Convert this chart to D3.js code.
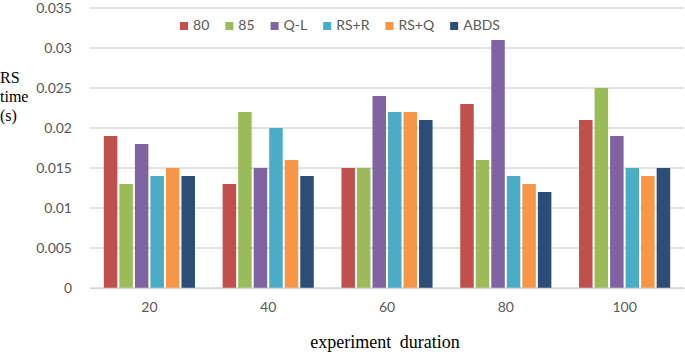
<!DOCTYPE html>
<html lang="en">

<head>
    <meta charset="UTF-8">
    <title>RS time by experiment duration</title>
    <script src="https://d3js.org/d3.v7.min.js"></script>
    <style>
        body {
            margin: 0;
            background: #fff;
        }

        svg {
            font-family: Lato, "Noto Sans", sans-serif;
        }
    </style>
</head>

<body>
    <script>
        // chart data
        const durations = ['20', '40', '60', '80', '100'];
        const seriesNames = ['80', '85', 'Q-L', 'RS+R', 'RS+Q', 'ABDS'];
        const v80 = [0.019, 0.013, 0.015, 0.023, 0.021];
        const v85 = [0.013, 0.022, 0.015, 0.016, 0.025];
        const vQL = [0.018, 0.015, 0.024, 0.031, 0.019];
        const vRSR = [0.014, 0.020, 0.022, 0.014, 0.015];
        const vRSQ = [0.015, 0.016, 0.022, 0.013, 0.014];
        const vABDS = [0.014, 0.014, 0.021, 0.012, 0.015];
        const yTicks = [0, 0.005, 0.01, 0.015, 0.02, 0.025, 0.03, 0.035];

        const seriesValues = [v80, v85, vQL, vRSR, vRSQ, vABDS];
        const colors = ['#c0504d', '#9bbb59', '#8064a2', '#4bacc6', '#f79646', '#2c4d75'];

        const W = 685, H = 356;
        const margin = { top: 8, right: 1, bottom: 68, left: 90 };

        const svg = d3.select('body').append('svg')
            .attr('width', W)
            .attr('height', H);

        const x0 = d3.scaleBand()
            .domain(durations)
            .range([margin.left, W - margin.right])
            .paddingInner(0.233)
            .paddingOuter(0.1165);

        const x1 = d3.scaleBand()
            .domain(seriesNames)
            .range([0, x0.bandwidth()])
            .paddingInner(0.13);

        const y = d3.scaleLinear()
            .domain([0, 0.035])
            .range([H - margin.bottom, margin.top]);

        // gridlines
        svg.append('g')
            .selectAll('line')
            .data(yTicks)
            .join('line')
            .attr('x1', margin.left)
            .attr('x2', W - margin.right)
            .attr('y1', d => y(d))
            .attr('y2', d => y(d))
            .attr('stroke', '#d9d9d9')
            .attr('stroke-width', 1.3);

        // y axis labels
        const yAxis = svg.append('g')
            .attr('transform', `translate(${margin.left - 15},0)`)
            .call(d3.axisLeft(y).tickValues(yTicks).tickSize(0).tickFormat(d => d3.format('')(+d.toFixed(3))));
        yAxis.select('.domain').remove();
        yAxis.selectAll('text')
            .attr('fill', '#595959')
            .style('font-size', '14px')
            .style('font-family', 'Lato, "Noto Sans", sans-serif');

        // bars
        const groups = svg.append('g')
            .selectAll('g')
            .data(durations)
            .join('g')
            .attr('transform', d => `translate(${x0(d)},0)`);

        groups.selectAll('rect')
            .data((d, i) => seriesNames.map((s, j) => ({ s: s, v: seriesValues[j][i], c: colors[j] })))
            .join('rect')
            .attr('x', d => x1(d.s))
            .attr('y', d => y(d.v))
            .attr('width', x1.bandwidth())
            .attr('height', d => y(0) - y(d.v))
            .attr('fill', d => d.c);

        // x axis
        const xAxis = svg.append('g')
            .attr('transform', `translate(0,${y(0)})`)
            .call(d3.axisBottom(x0).tickSize(0).tickPadding(14));
        xAxis.select('.domain')
            .attr('stroke', '#d9d9d9')
            .attr('stroke-width', 1.5);
        xAxis.selectAll('text')
            .attr('fill', '#595959')
            .style('font-size', '14px')
            .style('font-family', 'Lato, "Noto Sans", sans-serif');

        // axis titles
        svg.append('text')
            .attr('x', 385)
            .attr('y', 348)
            .attr('text-anchor', 'middle')
            .style('font-family', '"Liberation Serif", "DejaVu Serif", serif')
            .style('font-size', '18px')
            .style('word-spacing', '4px')
            .attr('fill', '#000')
            .text('experiment duration');

        const yTitle = svg.append('text')
            .attr('x', 0)
            .attr('y', 83)
            .style('font-family', '"Liberation Serif", "DejaVu Serif", serif')
            .style('font-size', '16px')
            .attr('fill', '#000');
        ['RS', 'time', '(s)'].forEach((t, i) => {
            yTitle.append('tspan').attr('x', 0).attr('dy', i === 0 ? 0 : 19).text(t);
        });

        // legend
        const legend = svg.append('g');
        const items = legend.selectAll('g')
            .data(seriesNames)
            .join('g');
        items.append('rect')
            .attr('width', 8)
            .attr('height', 8)
            .attr('y', 22)
            .attr('fill', (d, i) => colors[i]);
        items.append('text')
            .attr('x', 13)
            .attr('y', 30)
            .attr('fill', '#595959')
            .style('font-size', '14px')
            .text(d => d);

        let pos = 0;
        items.each(function () {
            d3.select(this).attr('transform', `translate(${pos},0)`);
            pos += 13 + this.querySelector('text').getComputedTextLength() + 16;
        });
        const legendW = pos - 16;
        legend.attr('transform', `translate(${340 - legendW / 2},0)`);
    </script>
</body>

</html>
